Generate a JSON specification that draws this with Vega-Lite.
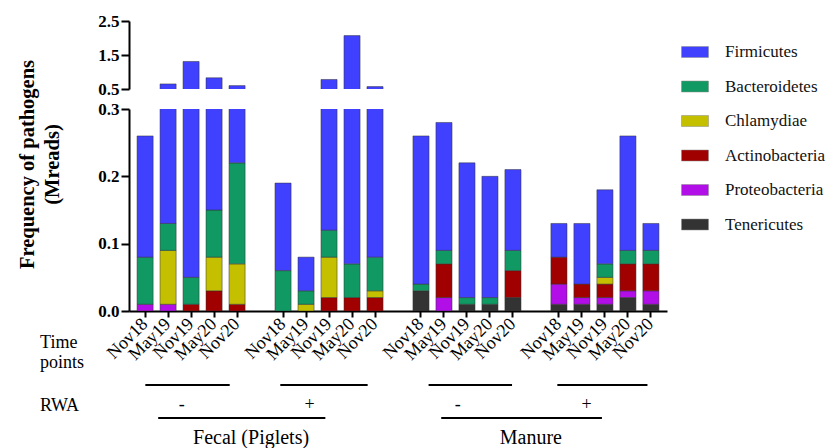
{
  "$schema": "https://vega.github.io/schema/vega-lite/v6.json",
  "padding": {"left": 16, "top": 12, "right": 5, "bottom": 0},
  "bounds": "flush",
  "spacing": 20,
  "config": {
    "font": "Liberation Serif, serif",
    "view": {"stroke": null},
    "text": {"font": "Liberation Serif, serif"},
    "legend": {
      "orient": "none",
      "legendX": 552,
      "legendY": 17,
      "title": null,
      "symbolType": "M-1,-0.407H1V0.407H-1Z",
      "symbolSize": 729,
      "symbolStrokeColor": "#888888",
      "symbolStrokeWidth": 0.5,
      "symbolOpacity": 1,
      "labelFont": "Liberation Serif, serif",
      "labelFontSize": 17,
      "labelColor": "#111111",
      "labelOffset": 16,
      "rowPadding": 12.5
    }
  },
  "datasets": {
    "bars": [
      {"g": "Fecal -", "t": "Nov18", "p": "Proteobacteria", "v": 0.01},
      {"g": "Fecal -", "t": "Nov18", "p": "Bacteroidetes", "v": 0.07},
      {"g": "Fecal -", "t": "Nov18", "p": "Firmicutes", "v": 0.18},
      {"g": "Fecal -", "t": "May19", "p": "Proteobacteria", "v": 0.01},
      {"g": "Fecal -", "t": "May19", "p": "Chlamydiae", "v": 0.08},
      {"g": "Fecal -", "t": "May19", "p": "Bacteroidetes", "v": 0.04},
      {"g": "Fecal -", "t": "May19", "p": "Firmicutes", "v": 0.52},
      {"g": "Fecal -", "t": "Nov19", "p": "Actinobacteria", "v": 0.01},
      {"g": "Fecal -", "t": "Nov19", "p": "Bacteroidetes", "v": 0.04},
      {"g": "Fecal -", "t": "Nov19", "p": "Firmicutes", "v": 1.26},
      {"g": "Fecal -", "t": "May20", "p": "Actinobacteria", "v": 0.03},
      {"g": "Fecal -", "t": "May20", "p": "Chlamydiae", "v": 0.05},
      {"g": "Fecal -", "t": "May20", "p": "Bacteroidetes", "v": 0.07},
      {"g": "Fecal -", "t": "May20", "p": "Firmicutes", "v": 0.68},
      {"g": "Fecal -", "t": "Nov20", "p": "Actinobacteria", "v": 0.01},
      {"g": "Fecal -", "t": "Nov20", "p": "Chlamydiae", "v": 0.06},
      {"g": "Fecal -", "t": "Nov20", "p": "Bacteroidetes", "v": 0.15},
      {"g": "Fecal -", "t": "Nov20", "p": "Firmicutes", "v": 0.38},
      {"g": "Fecal +", "t": "Nov18", "p": "Bacteroidetes", "v": 0.06},
      {"g": "Fecal +", "t": "Nov18", "p": "Firmicutes", "v": 0.13},
      {"g": "Fecal +", "t": "May19", "p": "Chlamydiae", "v": 0.01},
      {"g": "Fecal +", "t": "May19", "p": "Bacteroidetes", "v": 0.02},
      {"g": "Fecal +", "t": "May19", "p": "Firmicutes", "v": 0.05},
      {"g": "Fecal +", "t": "Nov19", "p": "Actinobacteria", "v": 0.02},
      {"g": "Fecal +", "t": "Nov19", "p": "Chlamydiae", "v": 0.06},
      {"g": "Fecal +", "t": "Nov19", "p": "Bacteroidetes", "v": 0.04},
      {"g": "Fecal +", "t": "Nov19", "p": "Firmicutes", "v": 0.66},
      {"g": "Fecal +", "t": "May20", "p": "Actinobacteria", "v": 0.02},
      {"g": "Fecal +", "t": "May20", "p": "Bacteroidetes", "v": 0.05},
      {"g": "Fecal +", "t": "May20", "p": "Firmicutes", "v": 2.0},
      {"g": "Fecal +", "t": "Nov20", "p": "Actinobacteria", "v": 0.02},
      {"g": "Fecal +", "t": "Nov20", "p": "Chlamydiae", "v": 0.01},
      {"g": "Fecal +", "t": "Nov20", "p": "Bacteroidetes", "v": 0.05},
      {"g": "Fecal +", "t": "Nov20", "p": "Firmicutes", "v": 0.49},
      {"g": "Manure -", "t": "Nov18", "p": "Tenericutes", "v": 0.03},
      {"g": "Manure -", "t": "Nov18", "p": "Bacteroidetes", "v": 0.01},
      {"g": "Manure -", "t": "Nov18", "p": "Firmicutes", "v": 0.22},
      {"g": "Manure -", "t": "May19", "p": "Proteobacteria", "v": 0.02},
      {"g": "Manure -", "t": "May19", "p": "Actinobacteria", "v": 0.05},
      {"g": "Manure -", "t": "May19", "p": "Bacteroidetes", "v": 0.02},
      {"g": "Manure -", "t": "May19", "p": "Firmicutes", "v": 0.19},
      {"g": "Manure -", "t": "Nov19", "p": "Tenericutes", "v": 0.01},
      {"g": "Manure -", "t": "Nov19", "p": "Bacteroidetes", "v": 0.01},
      {"g": "Manure -", "t": "Nov19", "p": "Firmicutes", "v": 0.20},
      {"g": "Manure -", "t": "May20", "p": "Tenericutes", "v": 0.01},
      {"g": "Manure -", "t": "May20", "p": "Bacteroidetes", "v": 0.01},
      {"g": "Manure -", "t": "May20", "p": "Firmicutes", "v": 0.18},
      {"g": "Manure -", "t": "Nov20", "p": "Tenericutes", "v": 0.02},
      {"g": "Manure -", "t": "Nov20", "p": "Actinobacteria", "v": 0.04},
      {"g": "Manure -", "t": "Nov20", "p": "Bacteroidetes", "v": 0.03},
      {"g": "Manure -", "t": "Nov20", "p": "Firmicutes", "v": 0.12},
      {"g": "Manure +", "t": "Nov18", "p": "Tenericutes", "v": 0.01},
      {"g": "Manure +", "t": "Nov18", "p": "Proteobacteria", "v": 0.03},
      {"g": "Manure +", "t": "Nov18", "p": "Actinobacteria", "v": 0.04},
      {"g": "Manure +", "t": "Nov18", "p": "Firmicutes", "v": 0.05},
      {"g": "Manure +", "t": "May19", "p": "Tenericutes", "v": 0.01},
      {"g": "Manure +", "t": "May19", "p": "Proteobacteria", "v": 0.01},
      {"g": "Manure +", "t": "May19", "p": "Actinobacteria", "v": 0.02},
      {"g": "Manure +", "t": "May19", "p": "Firmicutes", "v": 0.09},
      {"g": "Manure +", "t": "Nov19", "p": "Tenericutes", "v": 0.01},
      {"g": "Manure +", "t": "Nov19", "p": "Proteobacteria", "v": 0.01},
      {"g": "Manure +", "t": "Nov19", "p": "Actinobacteria", "v": 0.02},
      {"g": "Manure +", "t": "Nov19", "p": "Chlamydiae", "v": 0.01},
      {"g": "Manure +", "t": "Nov19", "p": "Bacteroidetes", "v": 0.02},
      {"g": "Manure +", "t": "Nov19", "p": "Firmicutes", "v": 0.11},
      {"g": "Manure +", "t": "May20", "p": "Tenericutes", "v": 0.02},
      {"g": "Manure +", "t": "May20", "p": "Proteobacteria", "v": 0.01},
      {"g": "Manure +", "t": "May20", "p": "Actinobacteria", "v": 0.04},
      {"g": "Manure +", "t": "May20", "p": "Bacteroidetes", "v": 0.02},
      {"g": "Manure +", "t": "May20", "p": "Firmicutes", "v": 0.17},
      {"g": "Manure +", "t": "Nov20", "p": "Tenericutes", "v": 0.01},
      {"g": "Manure +", "t": "Nov20", "p": "Proteobacteria", "v": 0.02},
      {"g": "Manure +", "t": "Nov20", "p": "Actinobacteria", "v": 0.04},
      {"g": "Manure +", "t": "Nov20", "p": "Bacteroidetes", "v": 0.02},
      {"g": "Manure +", "t": "Nov20", "p": "Firmicutes", "v": 0.04}
    ],
    "lines": [
      {"a": 1.01, "b": 4.68, "y": -0.11},
      {"a": 6.88, "b": 10.68, "y": -0.11},
      {"a": 13.33, "b": 16.96, "y": -0.11},
      {"a": 18.93, "b": 22.85, "y": -0.11},
      {"a": 1.57, "b": 8.84, "y": -0.159},
      {"a": 13.88, "b": 20.87, "y": -0.159}
    ],
    "signs": [
      {"t": "-", "x": 2.59, "y": -0.139},
      {"t": "+", "x": 8.15, "y": -0.139},
      {"t": "-", "x": 14.6, "y": -0.139},
      {"t": "+", "x": 20.2, "y": -0.139}
    ],
    "samples": [
      {"t": "Fecal (Piglets)", "x": 5.61, "y": -0.197},
      {"t": "Manure", "x": 17.78, "y": -0.197}
    ],
    "headers": [
      {"t": "Time", "x": -3.57, "y": -0.0544},
      {"t": "points", "x": -3.57, "y": -0.085},
      {"t": "RWA", "x": -3.57, "y": -0.149}
    ]
  },
  "resolve": {"scale": {"x": "independent", "y": "independent"}, "axis": {"x": "independent", "y": "independent"}},
  "vconcat": [
    {
      "width": 538,
      "height": 68,
      "data": {"name": "bars"},
      "transform": [
        {"calculate": "datum.g + '|' + datum.t", "as": "key"},
        {"calculate": "indexof(['Tenericutes','Proteobacteria','Actinobacteria','Chlamydiae','Bacteroidetes','Firmicutes'], datum.p)", "as": "ord"}
      ],
      "mark": {"type": "bar", "clip": true, "stroke": "#333333", "strokeWidth": 0.5},
      "encoding": {
        "x": {
          "field": "key", "type": "nominal",
          "scale": {
            "domain": ["Fecal -|Nov18", "Fecal -|May19", "Fecal -|Nov19", "Fecal -|May20", "Fecal -|Nov20", "gap1",
                       "Fecal +|Nov18", "Fecal +|May19", "Fecal +|Nov19", "Fecal +|May20", "Fecal +|Nov20", "gap2",
                       "Manure -|Nov18", "Manure -|May19", "Manure -|Nov19", "Manure -|May20", "Manure -|Nov20", "gap3",
                       "Manure +|Nov18", "Manure +|May19", "Manure +|Nov19", "Manure +|May20", "Manure +|Nov20"],
            "paddingInner": 0.3, "paddingOuter": 0.35
          },
          "axis": null
        },
        "y": {
          "field": "v", "type": "quantitative", "stack": "zero",
          "scale": {"domain": [0.5, 2.5], "nice": false, "zero": false},
          "axis": {
            "title": null, "values": [0.5, 1.5, 2.5], "format": ".1f",
            "labelFont": "Liberation Serif, serif", "labelFontSize": 17, "labelFontWeight": "bold", "labelColor": "#000000",
            "domainColor": "#000000", "domainWidth": 2, "tickColor": "#000000", "tickWidth": 2, "tickSize": 8,
            "labelPadding": 2, "grid": false
          }
        },
        "color": {
          "field": "p", "type": "nominal",
          "scale": {
            "domain": ["Firmicutes", "Bacteroidetes", "Chlamydiae", "Actinobacteria", "Proteobacteria", "Tenericutes"],
            "range": ["#4040ff", "#109963", "#c4c000", "#a00000", "#b20ee8", "#333333"]
          },
          "legend": {"labelFont": "Liberation Serif, serif", "labelFontSize": 17}
        },
        "order": {"field": "ord", "type": "quantitative"}
      }
    },
    {
      "width": 538,
      "height": 202,
      "resolve": {"scale": {"x": "independent", "y": "independent"}, "axis": {"x": "independent", "y": "independent"}},
      "layer": [
        {
          "data": {"name": "bars"},
          "transform": [
            {"calculate": "datum.g + '|' + datum.t", "as": "key"},
            {"calculate": "indexof(['Tenericutes','Proteobacteria','Actinobacteria','Chlamydiae','Bacteroidetes','Firmicutes'], datum.p)", "as": "ord"}
          ],
          "mark": {"type": "bar", "clip": true, "stroke": "#333333", "strokeWidth": 0.5},
          "encoding": {
            "x": {
              "field": "key", "type": "nominal",
              "scale": {
                "domain": ["Fecal -|Nov18", "Fecal -|May19", "Fecal -|Nov19", "Fecal -|May20", "Fecal -|Nov20", "gap1",
                           "Fecal +|Nov18", "Fecal +|May19", "Fecal +|Nov19", "Fecal +|May20", "Fecal +|Nov20", "gap2",
                           "Manure -|Nov18", "Manure -|May19", "Manure -|Nov19", "Manure -|May20", "Manure -|Nov20", "gap3",
                           "Manure +|Nov18", "Manure +|May19", "Manure +|Nov19", "Manure +|May20", "Manure +|Nov20"],
                "paddingInner": 0.3, "paddingOuter": 0.35
              },
              "axis": {
                "title": null,
                "values": ["Fecal -|Nov18", "Fecal -|May19", "Fecal -|Nov19", "Fecal -|May20", "Fecal -|Nov20",
                           "Fecal +|Nov18", "Fecal +|May19", "Fecal +|Nov19", "Fecal +|May20", "Fecal +|Nov20",
                           "Manure -|Nov18", "Manure -|May19", "Manure -|Nov19", "Manure -|May20", "Manure -|Nov20",
                           "Manure +|Nov18", "Manure +|May19", "Manure +|Nov19", "Manure +|May20", "Manure +|Nov20"],
                "labelExpr": "split(datum.value, '|')[1]",
                "labelAngle": -45, "labelAlign": "right", "labelBaseline": "middle",
                "labelFont": "Liberation Serif, serif", "labelFontSize": 18, "labelColor": "#000000", "labelPadding": 4,
                "labelOverlap": false, "labelBound": false,
                "domainColor": "#000000", "domainWidth": 2, "tickColor": "#000000", "tickWidth": 2, "tickSize": 6,
                "grid": false
              }
            },
            "y": {
              "field": "v", "type": "quantitative", "stack": "zero",
              "scale": {"domain": [0, 0.3], "nice": false},
              "axis": {
                "title": ["Frequency of pathogens", "(Mreads)"],
                "values": [0, 0.1, 0.2, 0.3], "format": ".1f",
                "labelFont": "Liberation Serif, serif", "labelFontSize": 17, "labelFontWeight": "bold", "labelColor": "#000000",
                "domainColor": "#000000", "domainWidth": 2, "tickColor": "#000000", "tickWidth": 2, "tickSize": 8,
                "labelPadding": 2, "grid": false,
                "titleFont": "Liberation Serif, serif", "titleFontSize": 20.5, "titleFontWeight": "bold", "titleColor": "#000000",
                "titleAngle": -90, "titleAlign": "center", "titleBaseline": "alphabetic",
                "titleX": -96, "titleY": 55, "titleLineHeight": 25
              }
            },
            "color": {
              "field": "p", "type": "nominal",
              "scale": {
                "domain": ["Firmicutes", "Bacteroidetes", "Chlamydiae", "Actinobacteria", "Proteobacteria", "Tenericutes"],
                "range": ["#4040ff", "#109963", "#c4c000", "#a00000", "#b20ee8", "#333333"]
              },
              "legend": {"labelFont": "Liberation Serif, serif", "labelFontSize": 17}
            },
            "order": {"field": "ord", "type": "quantitative"}
          }
        },
        {
          "data": {"name": "lines"},
          "mark": {"type": "rule", "color": "#000000", "strokeWidth": 2},
          "encoding": {
            "x": {"field": "a", "type": "quantitative", "scale": {"domain": [0.3, 23.7], "nice": false, "zero": false}, "axis": null},
            "x2": {"field": "b"},
            "y": {"field": "y", "type": "quantitative", "scale": {"domain": [0, 0.3], "nice": false}, "axis": null}
          }
        },
        {
          "data": {"name": "signs"},
          "mark": {"type": "text", "font": "Liberation Serif, serif", "fontSize": 18, "color": "#000000", "align": "center", "baseline": "middle"},
          "encoding": {
            "x": {"field": "x", "type": "quantitative", "scale": {"domain": [0.3, 23.7], "nice": false, "zero": false}, "axis": null},
            "y": {"field": "y", "type": "quantitative", "scale": {"domain": [0, 0.3], "nice": false}, "axis": null},
            "text": {"field": "t"}
          }
        },
        {
          "data": {"name": "samples"},
          "mark": {"type": "text", "font": "Liberation Serif, serif", "fontSize": 20, "color": "#000000", "align": "center", "baseline": "alphabetic"},
          "encoding": {
            "x": {"field": "x", "type": "quantitative", "scale": {"domain": [0.3, 23.7], "nice": false, "zero": false}, "axis": null},
            "y": {"field": "y", "type": "quantitative", "scale": {"domain": [0, 0.3], "nice": false}, "axis": null},
            "text": {"field": "t"}
          }
        },
        {
          "data": {"name": "headers"},
          "mark": {"type": "text", "font": "Liberation Serif, serif", "fontSize": 18, "color": "#000000", "align": "left", "baseline": "alphabetic"},
          "encoding": {
            "x": {"field": "x", "type": "quantitative", "scale": {"domain": [0.3, 23.7], "nice": false, "zero": false}, "axis": null},
            "y": {"field": "y", "type": "quantitative", "scale": {"domain": [0, 0.3], "nice": false}, "axis": null},
            "text": {"field": "t"}
          }
        }
      ]
    }
  ]
}
